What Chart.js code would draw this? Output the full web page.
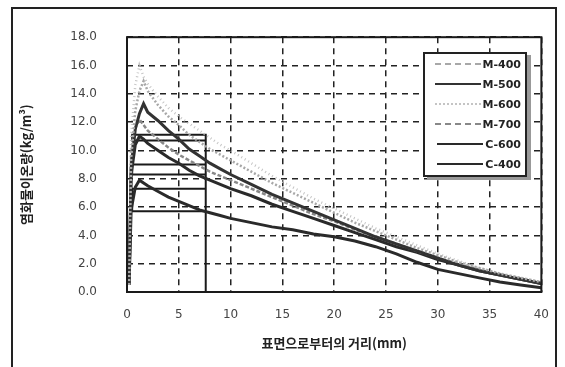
<!DOCTYPE html>
<html>
<head>
<meta charset="utf-8">
<script src="https://cdn.jsdelivr.net/npm/chart.js@4.4.0/dist/chart.umd.min.js"></script>
<style>
  body { margin: 0; background: #fff; }
  #wrap { position: relative; width: 565px; height: 367px; overflow: hidden; }
  #frame { position: absolute; left: 11px; top: 7px; width: 542px; height: 400px; border: 2px solid #222; }
  #legend {
    position: absolute; left: 423px; top: 52px; width: 100px; height: 121px;
    background: #fff; border: 2px solid #222; box-shadow: 4px 3px 0 #999;
    font: bold 11px "DejaVu Sans", sans-serif; color: #222;
  }
  .row { display: flex; align-items: center; justify-content: flex-end; height: 20px; padding-right: 4px; }
  .row span.ln { display: inline-block; width: 46px; height: 0; margin-right: 2px; }
</style>
</head>
<body>
<div id="wrap">
  <div id="frame"></div>
  <canvas id="chart" width="565" height="367"></canvas>
  <div id="legend"></div>
</div>
<script>
var seriesNames = ['M-400', 'M-500', 'M-600', 'M-700', 'C-600', 'C-400'];

var distance = [0.2, 0.4, 0.8, 1.2, 1.6, 2, 3, 4, 5, 6, 7, 8, 9, 10, 12, 14, 16, 18, 20, 22, 24, 26, 28, 30, 32, 34, 36, 38, 40];

var m400 = [0.5, 9.5, 12.8, 14.2, 14.9, 14.2, 13.2, 12.4, 11.8, 11.1, 10.6, 10.1, 9.7, 9.3, 8.5, 7.7, 7.0, 6.3, 5.6, 4.9, 4.3, 3.7, 3.1, 2.6, 2.1, 1.7, 1.3, 1.0, 0.7];
var m500 = [0.5, 8.8, 11.5, 12.6, 13.3, 12.7, 12.1, 11.4, 10.8, 10.1, 9.6, 9.1, 8.7, 8.3, 7.6, 6.9, 6.3, 5.7, 5.1, 4.5, 3.9, 3.4, 2.9, 2.4, 1.9, 1.5, 1.2, 0.9, 0.6];
var m600 = [0.5, 11.0, 14.6, 16.0, 15.2, 14.7, 13.8, 13.0, 12.4, 11.9, 11.4, 10.9, 10.4, 10.0, 9.1, 8.2, 7.4, 6.6, 5.9, 5.2, 4.5, 3.9, 3.3, 2.7, 2.2, 1.7, 1.3, 1.0, 0.7];
var m700 = [0.5, 9.8, 11.6, 12.2, 11.8, 11.4, 10.8, 10.2, 9.7, 9.3, 8.9, 8.5, 8.2, 7.9, 7.3, 6.7, 6.1, 5.5, 5.0, 4.4, 3.9, 3.4, 2.9, 2.4, 2.0, 1.6, 1.2, 0.9, 0.6];
var c600 = [0.5, 8.3, 10.4, 11.0, 10.8, 10.5, 10.0, 9.5, 9.1, 8.6, 8.2, 7.9, 7.6, 7.3, 6.8, 6.2, 5.7, 5.2, 4.7, 4.2, 3.7, 3.2, 2.8, 2.3, 1.9, 1.5, 1.2, 0.9, 0.6];
var c400 = [0.5, 5.8, 7.4, 7.9, 7.7, 7.5, 7.1, 6.7, 6.4, 6.1, 5.8, 5.6, 5.4, 5.2, 4.9, 4.6, 4.4, 4.1, 3.9, 3.6, 3.2, 2.7, 2.1, 1.6, 1.3, 1.0, 0.7, 0.5, 0.3];

// the step lines near the surface in the original figure
var stepX = [7.6, 7.6, 0.5, 0.5, 7.6, 7.6, 0.5, 0.5, 7.6, 7.6, 0.5, 0.5, 7.6];
var stepY = [0, 11.1, 11.1, 10.7, 10.7, 9.0, 9.0, 8.3, 8.3, 7.3, 7.3, 5.7, 5.7];

var xTicks = [0, 5, 10, 15, 20, 25, 30, 35, 40];
var yTicks = [0, 2, 4, 6, 8, 10, 12, 14, 16, 18];

var allValues = [m400, m500, m600, m700, c600, c400];
var colors = ['#a8a8a8', '#333333', '#c4c4c4', '#888888', '#2a2a2a', '#2a2a2a'];
var dashes = [[2, 2], [], [1, 3], [4, 2], [], []];
var widths = [2.5, 3, 2.5, 2.5, 3, 3];

function toPoints(xs, ys) {
    var pts = [];
    for (var i = 0; i < xs.length; i++) {
        pts.push({ x: xs[i], y: ys[i] });
    }
    return pts;
}

var datasets = [];
for (var i = 0; i < seriesNames.length; i++) {
    datasets.push({
        label: seriesNames[i],
        data: toPoints(distance, allValues[i]),
        borderColor: colors[i],
        borderDash: dashes[i],
        borderWidth: widths[i],
        showLine: true,
        pointRadius: 0,
        tension: 0
    });
}
datasets.push({
    label: 'step',
    data: toPoints(stepX, stepY),
    borderColor: '#1a1a1a',
    borderWidth: 2,
    showLine: true,
    pointRadius: 0
});

// legend box like the original
var legendHtml = '';
for (var i = 0; i < seriesNames.length; i++) {
    var style = dashes[i].length ? 'dashed' : 'solid';
    if (dashes[i][0] == 1) style = 'dotted';
    legendHtml += '<div class="row"><span class="ln" style="border-top:2px ' + style + ' ' + colors[i] + '"></span>' + seriesNames[i] + '</div>';
}
document.getElementById('legend').innerHTML = legendHtml;

var boxPlugin = {
    id: 'box',
    afterDraw: function(chart) {
        var a = chart.chartArea;
        var ctx = chart.ctx;
        ctx.save();
        ctx.strokeStyle = '#1a1a1a';
        ctx.lineWidth = 2;
        ctx.strokeRect(a.left, a.top, a.right - a.left, a.bottom - a.top);
        ctx.restore();
    }
};

var tickFont = { family: 'DejaVu Sans', size: 12 };

new Chart(document.getElementById('chart'), {
    type: 'scatter',
    data: { datasets: datasets },
    plugins: [boxPlugin],
    options: {
        responsive: false,
        animation: false,
        layout: { padding: { left: 14, right: 16, top: 22, bottom: 10 } },
        plugins: { legend: { display: false }, tooltip: { enabled: false } },
        scales: {
            x: {
                type: 'linear', min: 0, max: 40,
                afterBuildTicks: function(s) { s.ticks = xTicks.map(function(v) { return { value: v }; }); },
                afterFit: function(s) { s.height = 65; },
                grid: { color: '#222', lineWidth: 1.5, drawTicks: false },
                border: { display: false, dash: [6, 5] },
                ticks: { color: '#444', font: tickFont, padding: 16 },
                title: { display: true, text: '표면으로부터의 거리(mm)', color: '#222',
                    font: { family: 'Noto Sans CJK KR', size: 13, weight: 'bold' }, padding: { top: 2, bottom: 6 } }
            },
            y: {
                type: 'linear', min: 0, max: 18,
                afterBuildTicks: function(s) { s.ticks = yTicks.map(function(v) { return { value: v }; }); },
                afterFit: function(s) { s.width = 113; },
                grid: { color: '#222', lineWidth: 1.5, drawTicks: false },
                border: { display: false, dash: [6, 5] },
                ticks: { color: '#444', font: tickFont, padding: 30,
                    callback: function(v) { return v.toFixed(1); } },
                title: { display: true, text: '염화물이온량(kg/m³)', color: '#222',
                    font: { family: 'Noto Sans CJK KR', size: 13, weight: 'bold' }, padding: { top: 4, bottom: 4 } }
            }
        }
    }
});
</script>
</body>
</html>
